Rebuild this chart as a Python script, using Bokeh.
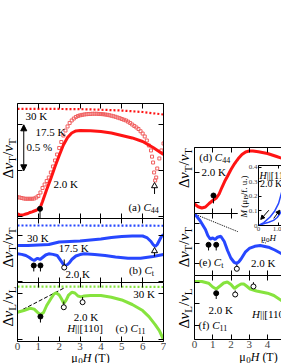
import math
from bokeh.plotting import figure
from bokeh.models import Range1d, LinearAxis, FixedTicker, Label, Arrow, NormalHead, GridBox
from bokeh.embed import file_html
from bokeh.resources import INLINE

SERIF = "Liberation Serif"
RED = "#ff1414"
RED_L = "#f06060"
BLUE = "#2747ff"
GREEN = "#86e33e"

# ---------------- data (field in T, relative sound-velocity change in %) ----------------
# (a) C44
H_a30 = [0, 1, 2, 3, 4, 5, 6, 7]
dv_a30 = [0.174, 0.174, 0.172, 0.170, 0.164, 0.155, 0.139, 0.112]
H_a17 = [0.0, 0.1, 0.2, 0.3, 0.4, 0.5, 0.6, 0.7, 0.8, 0.9, 1.0, 1.1, 1.2, 1.3, 1.4, 1.5, 1.6, 1.7, 1.8, 1.9,
         2.0, 2.1, 2.2, 2.3, 2.4, 2.5, 2.6, 2.7, 2.8, 2.9, 3.0, 3.1, 3.2, 3.3, 3.4, 3.5, 3.6, 3.7, 3.8, 3.9,
         4.0, 4.1, 4.2, 4.3, 4.4, 4.5, 4.6, 4.7, 4.8, 4.9, 5.0, 5.1, 5.2, 5.3, 5.4, 5.5, 5.6, 5.7, 5.8, 5.9,
         6.0, 6.1, 6.2, 6.3, 6.4, 6.45, 6.5, 6.55, 6.6, 6.65, 6.7, 6.8, 6.9, 7.0]
dv_a17 = [-0.787, -0.790, -0.796, -0.801, -0.804, -0.804, -0.804, -0.804, -0.801, -0.790, -0.774, -0.736,
          -0.687, -0.649, -0.611, -0.573, -0.518, -0.453, -0.388, -0.323, -0.252, -0.187, -0.116, -0.062,
          -0.018, 0.020, 0.047, 0.068, 0.085, 0.096, 0.103, 0.108, 0.112, 0.115, 0.117, 0.118, 0.120, 0.120,
          0.120, 0.118, 0.117, 0.115, 0.112, 0.109, 0.104, 0.099, 0.093, 0.087, 0.079, 0.072, 0.063, 0.055,
          0.047, 0.034, 0.020, 0.003, -0.013, -0.029, -0.046, -0.070, -0.095, -0.127, -0.171, -0.225,
          -0.279, -0.346, -0.410, -0.518, -0.605, -0.573, -0.475, -0.366, -0.279, -0.203]
H_a2 = [0.0, 0.1, 0.2, 0.3, 0.4, 0.5, 0.6, 0.7, 0.8, 0.9, 1.0, 1.1, 1.2, 1.3, 1.4, 1.5, 1.6, 1.7, 1.8, 1.9,
        2.0, 2.2, 2.4, 2.6, 2.8, 3.0, 3.5, 4.0, 4.5, 5.0, 5.5, 6.0, 6.5, 7.0]
dv_a2 = [-0.970, -0.978, -0.980, -0.977, -0.970, -0.964, -0.953, -0.946, -0.937, -0.929, -0.915, -0.893,
         -0.834, -0.768, -0.703, -0.643, -0.584, -0.518, -0.453, -0.393, -0.334, -0.220, -0.138, -0.089,
         -0.067, -0.062, -0.065, -0.073, -0.089, -0.116, -0.143, -0.182, -0.247, -0.323]

# (b) Ct
H_b30 = [0, 1, 2, 3, 4, 5, 6, 7]
dv_b30 = [0.109, 0.109, 0.109, 0.109, 0.108, 0.108, 0.107, 0.106]
H_b17 = [0.0, 0.5, 1.0, 1.5, 1.7, 2.0, 2.5, 3.0, 3.5, 4.0, 4.5, 5.0, 5.5, 6.0, 6.2, 6.4, 6.5, 6.6, 6.7, 6.8, 6.9, 7.0]
dv_b17 = [-0.109, -0.109, -0.103, -0.098, -0.087, -0.071, -0.065, -0.060, -0.049, -0.038, -0.022, -0.011,
          -0.005, -0.005, -0.022, -0.065, -0.098, -0.120, -0.098, -0.054, -0.011, 0.011]
H_b2 = [0.0, 0.2, 0.4, 0.55, 0.7, 0.8, 0.9, 0.96, 1.08, 1.2, 1.35, 1.5, 1.7, 1.9, 2.05, 2.2, 2.3, 2.4, 2.5,
        2.6, 2.8, 3.0, 3.2, 3.7, 4.2, 4.7, 5.3, 5.9, 6.5, 7.0]
dv_b2 = [-0.199, -0.205, -0.217, -0.236, -0.261, -0.272, -0.255, -0.247, -0.261, -0.239, -0.212, -0.199,
         -0.205, -0.217, -0.266, -0.315, -0.326, -0.315, -0.293, -0.261, -0.223, -0.207, -0.199, -0.207,
         -0.217, -0.234, -0.247, -0.247, -0.228, -0.207]

# (c) C11
H_c30 = [0, 1, 2, 3, 4, 5, 6, 7]
dv_c30 = [0.078, 0.078, 0.078, 0.078, 0.078, 0.077, 0.076, 0.074]
H_c2 = [0.0, 0.3, 0.6, 0.8, 0.95, 1.1, 1.25, 1.4, 1.6, 1.75, 1.85, 2.0, 2.1, 2.22, 2.32, 2.45, 2.6, 2.75,
        2.9, 3.05, 3.2, 3.5, 4.0, 4.5, 5.0, 5.5, 6.0, 6.3, 6.6, 6.8, 7.0]
dv_c2 = [-0.200, -0.182, -0.157, -0.166, -0.198, -0.228, -0.203, -0.127, -0.054, -0.002, 0.011, -0.013,
         -0.051, -0.102, -0.073, -0.013, 0.017, 0.009, -0.024, -0.033, -0.024, -0.018, -0.018, -0.038,
         -0.067, -0.116, -0.182, -0.247, -0.334, -0.399, -0.497]
H_c_dash = [0.0, 2.25]
dv_c_dash = [-0.200, 0.065]

# (d) C44, (e) Ct, (f) C11 at 2.0 K
H_d = [0.0, 0.2, 0.4, 0.6, 0.8, 1.0, 1.2, 1.35, 1.5, 1.65, 1.8, 2.0, 2.2, 2.4, 2.6, 2.8, 3.0, 3.2, 3.5, 4.0, 4.5, 4.9]
dv_d = [-0.520, -0.565, -0.585, -0.569, -0.511, -0.462, -0.422, -0.356, -0.250, -0.152, -0.070, 0.044,
        0.142, 0.224, 0.289, 0.330, 0.346, 0.346, 0.333, 0.306, 0.257, 0.216]
H_e = [0.0, 0.15, 0.3, 0.45, 0.6, 0.73, 0.86, 1.0, 1.13, 1.26, 1.44, 1.63, 1.81, 1.99, 2.18, 2.3, 2.42,
       2.55, 2.78, 3.0, 3.3, 3.6, 4.05, 4.4, 4.8]
dv_e = [1.245, 1.170, 1.083, 0.970, 0.858, 0.708, 0.620, 0.645, 0.608, 0.665, 0.690, 0.558, 0.333, 0.145,
        0.033, 0.008, 0.045, 0.120, 0.290, 0.383, 0.438, 0.458, 0.415, 0.345, 0.245]
H_e_dot = [0.0, 3.9]
dv_e_dot = [1.245, 0.520]
H_f = [0.0, 0.4, 0.77, 1.0, 1.19, 1.4, 1.6, 1.8, 2.0, 2.19, 2.36, 2.55, 2.7, 2.85, 3.05, 3.4, 4.0, 4.35, 4.8]
dv_f = [1.014, 1.014, 0.975, 0.887, 0.841, 0.910, 0.979, 1.002, 0.945, 0.853, 0.910, 0.956, 0.956, 0.910,
        0.841, 0.795, 0.744, 0.691, 0.565]

# inset: magnetization (muB/f.u.) vs field (T), two sweep directions
H_in_up = [0.0, 0.26, 0.57, 0.8, 0.99, 1.15]
M_in_up = [0.0, 0.020, 0.058, 0.100, 0.152, 0.233]
H_in_dn = [0.0, 0.25, 0.5, 0.74, 0.92, 1.06, 1.15]
M_in_dn = [0.0, 0.012, 0.022, 0.035, 0.055, 0.082, 0.105]

# anomaly markers: field, marker level, stem end
pin_a_f = ([1.08], [-0.913], [-1.018])
pin_a_t = ([6.57], [-0.665], [-0.752])
pin_b_f = ([0.78, 1.10], [-0.326, -0.326], [-0.391, -0.391])
pin_b_o = ([2.24], [-0.348], [-0.261])
pin_b_t = ([6.57], [-0.168], [-0.228])
pin_c_f = ([1.10], [-0.247], [-0.312])
pin_c_o = ([2.22, 3.12], [-0.146, -0.091], [-0.084, -0.035])
pin_d_f = ([1.04], [-0.381], [-0.510])
pin_e_f = ([0.77, 1.19], [0.475, 0.475], [0.333, 0.333])
pin_e_o = ([2.32], [-0.125], [-0.018])
pin_f_f = ([1.19], [0.744], [0.611])
pin_f_o = ([2.23, 3.23], [0.714, 0.899], [0.806, 0.998])

X_TICKS = [0, 1, 2, 3, 4, 5, 6, 7]

# ---------------- helpers ----------------
CW = {'(': .333, ')': .333, ' ': .25, 'a': .444, 'b': .5, 'c': .444, 'd': .5, 'e': .444, 'f': .333,
      'C': .667, 'K': .722, '.': .25, '%': .833, 'H': .722, '|': .2, '[': .333, ']': .333, 'T': .611,
      'L': .611, 'v': .444, 'Δ': .612, '/': .278, 'μ': .576, 't': .278, 'M': .833, 'B': .611, 'u': .5}


def tw(s, size):
    return sum(CW.get(ch, 0.5) for ch in s) * size


def rich(p, x, y, parts, angle=0.0, align="left"):
    total = sum(tw(t, sz) for t, sz, it, sh in parts)
    pos = -total / 2 if align == "center" else 0.0
    for t, sz, it, sh in parts:
        lead = len(t) - len(t.lstrip(" "))
        pos += tw(" " * lead, sz)
        t = t.lstrip(" ")
        if angle == 0:
            xo, yo = pos, -sh
        else:
            xo, yo = sh, pos
        p.add_layout(Label(x=x, y=y, x_offset=xo, y_offset=yo, text=t, angle=angle,
                           text_font=SERIF, text_font_size=f"{sz}px",
                           text_font_style="italic" if it else "normal",
                           text_baseline="middle", text_align="left", text_color="black"))
        pos += tw(t, sz)


def txt(p, x, y, s, size=11):
    rich(p, x, y, [(s, size, False, 0)])


def ylab(p, x, y, sub):
    rich(p, x, y, [("Δ", 15, False, 0), ("v", 15, True, 0), (sub, 11, False, 4),
                   ("/", 15, False, 0), ("v", 15, True, 0), (sub, 11, False, 4)],
         angle=math.pi / 2, align="center")


def xlab(p, x, y):
    rich(p, x, y, [("μ", 12, False, 0), ("0", 9, False, 3), ("H", 12, True, 0), (" (T)", 12, False, 0)],
         align="center")


def hide_labels(ax):
    ax.major_label_text_font_size = "0px"
    ax.major_label_text_alpha = 0
    ax.major_label_standoff = 0


def base_fig(**kw):
    p = figure(output_backend="svg", toolbar_location=None, x_axis_location=None, y_axis_location=None,
               outline_line_color=None, **kw)
    p.frame_align = False
    p.xgrid.visible = False
    p.ygrid.visible = False
    return p


def panel(w, h, xr, yr, bl, br, bt, bb, yticks, xticks, xlabels=False, right_axis=True):
    p = base_fig(width=w, height=h, x_range=Range1d(*xr), y_range=Range1d(*yr),
                 min_border_left=bl, min_border_right=br, min_border_top=bt, min_border_bottom=bb,
                 background_fill_color="white", border_fill_color="white")
    sides = ["left", "above", "below"] + (["right"] if right_axis else [])
    for side in sides:
        ticks = yticks if side in ("left", "right") else xticks
        ax = LinearAxis(ticker=FixedTicker(ticks=ticks), major_tick_in=5, major_tick_out=0,
                        minor_tick_in=0, minor_tick_out=0, axis_line_color="black",
                        major_tick_line_color="black", axis_line_width=1)
        if side == "below" and xlabels:
            ax.major_label_text_font = SERIF
            ax.major_label_text_font_size = "11px"
            ax.major_label_standoff = 1
        else:
            hide_labels(ax)
        p.add_layout(ax, side)
    return p


def pins_filled(p, pin):
    xs, ys, ye = pin
    p.segment(x0=xs, y0=ys, x1=xs, y1=ye, line_color="black", line_width=1)
    p.scatter(xs, ys, marker="circle", size=5, fill_color="black", line_color="black")


def pins_open(p, pin):
    xs, ys, ye = pin
    p.segment(x0=xs, y0=ys, x1=xs, y1=ye, line_color="black", line_width=1)
    p.scatter(xs, ys, marker="circle", size=5, fill_color="white", line_color="black", line_width=1)


def pins_tri(p, pin):
    xs, ys, ye = pin
    p.segment(x0=xs, y0=ys, x1=xs, y1=ye, line_color="black", line_width=1)
    p.scatter(xs, ys, marker="triangle", size=6, fill_color="white", line_color="black", line_width=1)


# ---------------- left column ----------------
fa = panel(166, 218, (0, 7), (-1.0185, 0.2315), 17, 3, 103, 0, [0, -0.5, -1.0], X_TICKS)
fa.line(H_a30, dv_a30, line_color=RED, line_width=2.2, line_dash="2 2")
fa.scatter(H_a17, dv_a17, marker="square", size=3, fill_color=None, line_color=RED_L, line_width=1)
fa.line(H_a2, dv_a2, line_color=RED, line_width=3)
pins_filled(fa, pin_a_f)
pins_tri(fa, pin_a_t)
fa.add_layout(Arrow(start=NormalHead(size=6, fill_color="black", line_color="black"),
                    end=NormalHead(size=6, fill_color="black", line_color="black"),
                    x_start=0.30, y_start=0.0, x_end=0.30, y_end=-0.5, line_width=1))
txt(fa, 0.38, 0.101, "30 K")
txt(fa, 0.86, -0.080, "17.5 K")
txt(fa, 0.43, -0.243, "0.5 %")
txt(fa, 1.73, -0.641, "2.0 K")
rich(fa, 5.32, -0.896, [("(a) ", 11, False, 0), ("C", 11, True, 0), ("44", 8, False, 3)])

fb = panel(166, 64, (0, 7), (-0.511, 0.185), 17, 3, 0, 0, [0, -0.5], X_TICKS)
fb.line(H_b30, dv_b30, line_color=BLUE, line_width=2.2, line_dash="2 2")
fb.line(H_b17, dv_b17, line_color=BLUE, line_width=3)
fb.line(H_b2, dv_b2, line_color=BLUE, line_width=3)
pins_filled(fb, pin_b_f)
pins_open(fb, pin_b_o)
pins_tri(fb, pin_b_t)
txt(fb, 0.46, -0.022, "30 K")
txt(fb, 1.98, -0.136, "17.5 K")
txt(fb, 2.30, -0.416, "2.0 K")
rich(fb, 5.34, -0.38, [("(b) ", 11, False, 0), ("C", 11, True, 0), ("t", 8, False, 3)])

fc = panel(166, 81, (0, 7), (-0.518, 0.123), 17, 3, 0, 22, [0, -0.5], X_TICKS, xlabels=True)
fc.line(H_c30, dv_c30, line_color=GREEN, line_width=2.2, line_dash="2 2")
fc.line(H_c_dash, dv_c_dash, line_color="black", line_width=1, line_dash="4 2")
fc.line(H_c2, dv_c2, line_color=GREEN, line_width=3)
pins_filled(fc, pin_c_f)
pins_open(fc, pin_c_o)
txt(fc, 5.55, 0.0, "30 K")
txt(fc, 2.70, -0.247, "2.0 K")
rich(fc, 2.38, -0.370, [("H", 11, True, 0), ("||[110]", 11, False, 0)])
rich(fc, 4.70, -0.370, [("(c) ", 11, False, 0), ("C", 11, True, 0), ("11", 8, False, 3)])

# ---------------- right column ----------------
XR = (0, 87 / 18.25)
fd = panel(115, 213, XR, (-0.675, 0.404), 28, 0, 147, 0, [0, -0.5], X_TICKS, right_axis=False)
fd.line(H_d, dv_d, line_color=RED, line_width=3)
pins_filled(fd, pin_d_f)
rich(fd, 0.26, 0.245, [("(d) ", 11, False, 0), ("C", 11, True, 0), ("44", 8, False, 3)])
txt(fd, 0.39, 0.0, "2.0 K")

fe = panel(115, 62, XR, (-0.2925, 1.2575), 28, 0, 0, 0, [0, 0.5, 1.0], X_TICKS, right_axis=False)
fe.line(H_e_dot, dv_e_dot, line_color="black", line_width=1, line_dash="1 1")
fe.line(H_e, dv_e, line_color=BLUE, line_width=3)
pins_filled(fe, pin_e_f)
pins_open(fe, pin_e_o)
rich(fe, 0.24, 0.04, [("(e) ", 11, False, 0), ("C", 11, True, 0), ("t", 8, False, 3)])
txt(fe, 3.09, 0.03, "2.0 K")

ff = panel(115, 88, XR, (-0.323, 1.152), 28, 0, 0, 24, [0, 0.5, 1.0], X_TICKS, xlabels=True, right_axis=False)
ff.line(H_f, dv_f, line_color=GREEN, line_width=3)
pins_filled(ff, pin_f_f)
pins_open(ff, pin_f_o)
txt(ff, 0.77, 0.346, "2.0 K")
rich(ff, 0.22, 0.0, [("(f) ", 11, False, 0), ("C", 11, True, 0), ("11", 8, False, 3)])
rich(ff, 3.15, 0.27, [("H", 11, True, 0), ("||[110]", 11, False, 0)])

# ---------------- inset ----------------
fi = base_fig(width=44, height=81, x_range=Range1d(0, 23 / 20.3), y_range=Range1d(0, 0.412),
              min_border_left=21, min_border_right=0, min_border_top=4, min_border_bottom=17,
              background_fill_color="white", border_fill_color="white")
for side, ticks in (("left", [0, 0.1, 0.2, 0.3, 0.4]), ("below", [0, 1.0]), ("above", [0, 1.0])):
    ax = LinearAxis(ticker=FixedTicker(ticks=ticks), major_tick_in=3, major_tick_out=0,
                    minor_tick_in=0, minor_tick_out=0)
    if side == "above":
        hide_labels(ax)
    else:
        ax.major_label_text_font = SERIF
        ax.major_label_text_font_size = "7px"
        ax.major_label_standoff = 1
    if side == "below":
        ax.major_label_overrides = {0: "0", 1: "1.0"}
    fi.add_layout(ax, side)
fi.line(H_in_up, M_in_up, line_color=BLUE, line_width=1.5)
fi.line(H_in_dn, M_in_dn, line_color=BLUE, line_width=1.5)
fi.add_layout(Arrow(end=NormalHead(size=4, fill_color="black", line_color="black"),
                    x_start=0.51, y_start=0.105, x_end=0.11, y_end=0.042, line_width=1))
fi.add_layout(Arrow(end=NormalHead(size=4, fill_color="black", line_color="black"),
                    x_start=0.75, y_start=0.049, x_end=1.05, y_end=0.105, line_width=1))
rich(fi, 0.05, 0.345, [("H", 10, True, 0), ("||[110]", 10, False, 0)])
rich(fi, 0.08, 0.287, [("2.0 K", 10, False, 0)])

# ---------------- transparent text layer for the axis titles (page pixels, y downward) ----------------
fo = base_fig(width=281, height=363, x_range=Range1d(0, 281), y_range=Range1d(363, 0),
              min_border=0, background_fill_color=None, border_fill_color=None)
ylab(fo, 7.5, 158, "T")
ylab(fo, 7.5, 247, "T")
ylab(fo, 7.5, 306, "L")
ylab(fo, 183.3, 167.5, "T")
ylab(fo, 183.3, 246.7, "T")
ylab(fo, 183.3, 308, "L")
xlab(fo, 90, 357)
xlab(fo, 258, 356)
rich(fo, 243, 196, [("M", 9, True, 0), (" (μ", 9, False, 0), ("B", 7, False, 2), ("/f. u.)", 9, False, 0)],
     angle=math.pi / 2, align="center")
rich(fo, 268, 237, [("μ", 9, False, 0), ("0", 7, False, 2), ("H", 9, True, 0)], align="center")

grid = GridBox(children=[(fa, 0, 0, 3, 1), (fb, 3, 0, 3, 1), (fc, 6, 0, 1, 1),
                         (fd, 0, 1, 2, 2), (fe, 2, 1, 3, 2), (ff, 5, 1, 2, 2), (fi, 1, 2, 3, 1),
                         (fo, 0, 0, 7, 3)],
               rows=["161px", "52px", "5px", "24px", "33px", "7px", "81px"],
               cols=["166px", "71px", "44px"], spacing=0)

open("out.html", "w").write(file_html(grid, INLINE))
